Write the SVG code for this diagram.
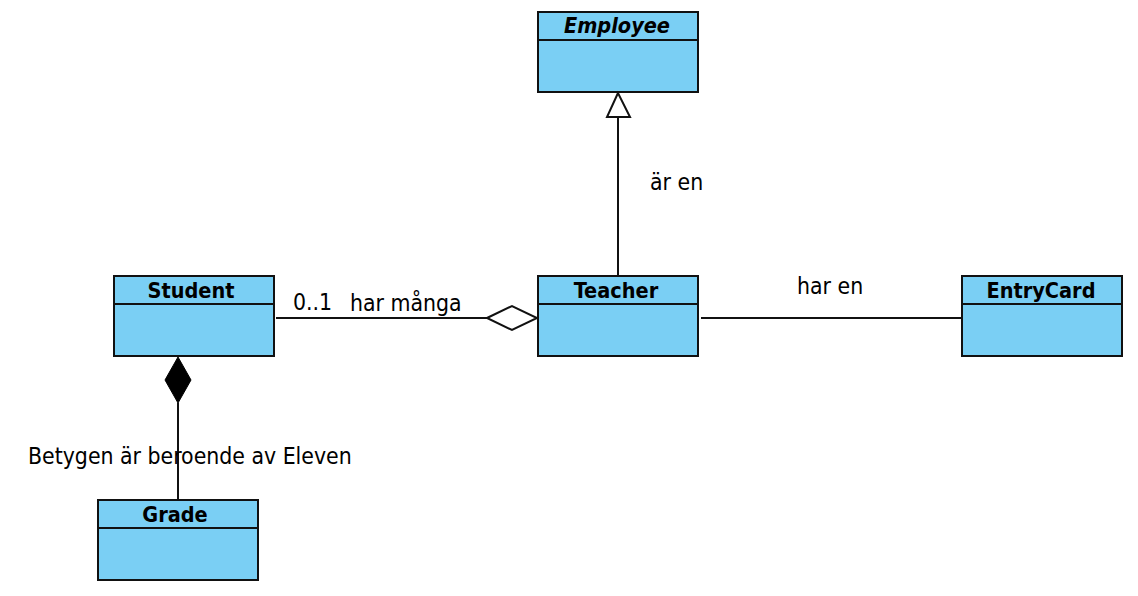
<svg xmlns="http://www.w3.org/2000/svg" width="1138" height="596" viewBox="0 0 1138 596">
<style>
.box{fill:#7acff4;stroke:#111;stroke-width:2}
.div{stroke:#111;stroke-width:2}
.title{font-family:"DejaVu Sans Condensed","DejaVu Sans",sans-serif;font-stretch:condensed;font-weight:bold;font-size:21.5px;text-anchor:middle;fill:#000}
.lbl{font-family:"DejaVu Sans Condensed","DejaVu Sans",sans-serif;font-stretch:condensed;font-size:22.8px;fill:#000}
.ln{stroke:#111;stroke-width:2;fill:none}
</style>
<rect width="1138" height="596" fill="#fff"/>
<g id="Employee">
<rect class="box" x="538" y="12" width="160" height="80"/>
<line class="div" x1="538" y1="40" x2="698" y2="40"/>
<text class="title" x="617" y="33" font-style="italic">Employee</text>
</g>
<g id="Student">
<rect class="box" x="114" y="276" width="160" height="80"/>
<line class="div" x1="114" y1="304" x2="274" y2="304"/>
<text class="title" x="191" y="298">Student</text>
</g>
<g id="Teacher">
<rect class="box" x="538" y="276" width="160" height="80"/>
<line class="div" x1="538" y1="304" x2="698" y2="304"/>
<text class="title" x="616" y="298">Teacher</text>
</g>
<g id="EntryCard">
<rect class="box" x="962" y="276" width="160" height="80"/>
<line class="div" x1="962" y1="304" x2="1122" y2="304"/>
<text class="title" x="1041" y="298">EntryCard</text>
</g>
<g id="Grade">
<rect class="box" x="98" y="500" width="160" height="80"/>
<line class="div" x1="98" y1="528" x2="258" y2="528"/>
<text class="title" x="175" y="522">Grade</text>
</g>
<g id="connectors">
<line class="ln" x1="618" y1="117" x2="618" y2="276"/>
<polygon points="618,93 607,117 630,117" fill="#fff" stroke="#111" stroke-width="2"/>
<line class="ln" x1="276" y1="318" x2="487" y2="318"/>
<polygon points="487,318 512,306 537,318 512,330" fill="#fff" stroke="#111" stroke-width="2"/>
<line class="ln" x1="701" y1="318" x2="962" y2="318"/>
<line class="ln" x1="178" y1="403" x2="178" y2="500"/>
<polygon points="178,357 191,380 178,403 165,380" fill="#000" stroke="#000" stroke-width="1"/>
<text class="lbl" x="650" y="190">är en</text>
<text class="lbl" x="797" y="294">har en</text>
<text class="lbl" x="293" y="310">0..1</text>
<text class="lbl" x="350" y="311">har många</text>
<text class="lbl" x="28" y="464">Betygen är beroende av Eleven</text>
</g>
</svg>
